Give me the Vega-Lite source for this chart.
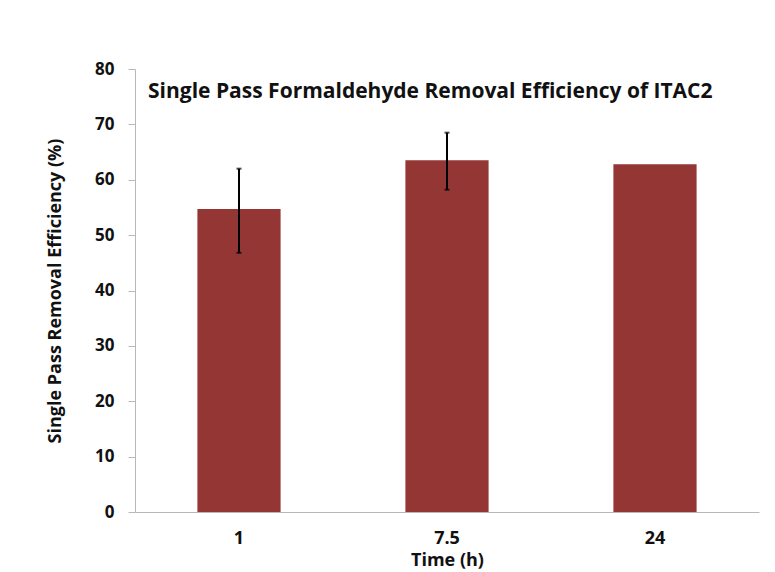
{
  "$schema": "https://vega.github.io/schema/vega-lite/v6.json",
  "autosize": {"type": "none"},
  "width": 624,
  "height": 443,
  "padding": {"left": 135, "top": 69, "right": 16, "bottom": 60},
  "background": "white",
  "config": {
    "view": {"stroke": null},
    "font": "Open Sans",
    "axis": {"labelFont": "Open Sans", "titleFont": "Open Sans", "labelFontWeight": "bold", "titleFontWeight": "bold", "labelColor": "#111", "titleColor": "#111", "domainColor": "#b8b8b8", "tickColor": "#b8b8b8", "grid": false}
  },
  "title": {
    "text": "Single Pass Formaldehyde Removal Efficiency of ITAC2",
    "anchor": "start",
    "frame": "group",
    "orient": "top",
    "offset": -42,
    "dx": 13,
    "font": "Open Sans",
    "fontSize": 21,
    "fontWeight": "bold",
    "color": "#111"
  },
  "data": {
    "values": [
      {"time": "1", "eff": 54.7, "lo": 46.8, "hi": 62.0},
      {"time": "7.5", "eff": 63.5, "lo": 58.2, "hi": 68.5},
      {"time": "24", "eff": 62.8, "lo": null, "hi": null}
    ]
  },
  "encoding": {
    "x": {
      "field": "time", "type": "nominal", "sort": ["1", "7.5", "24"],
      "scale": {"paddingInner": 0.6, "paddingOuter": 0.3},
      "axis": {"title": "Time (h)", "labelAngle": 0, "ticks": false, "labelPadding": 17, "labelFontSize": 18, "titleFontSize": 18, "titlePadding": 4, "domainWidth": 1}
    }
  },
  "layer": [
    {
      "mark": {"type": "bar", "color": "#943634"},
      "encoding": {
        "y": {
          "field": "eff", "type": "quantitative",
          "scale": {"domain": [0, 80]},
          "axis": {"title": "Single Pass Removal Efficiency (%)", "values": [0,10,20,30,40,50,60,70,80], "tickSize": 7, "labelPadding": 14, "labelFontSize": 17, "titleFontSize": 18, "titlePadding": 30}
        }
      }
    },
    {
      "transform": [{"filter": "datum.lo != null"}],
      "mark": {"type": "rule", "color": "#000", "strokeWidth": 2},
      "encoding": {"y": {"field": "lo", "type": "quantitative", "axis": {"title": "Single Pass Removal Efficiency (%)", "values": [0,10,20,30,40,50,60,70,80], "tickSize": 7, "labelPadding": 14, "labelFontSize": 17, "titleFontSize": 18, "titlePadding": 30}}, "y2": {"field": "hi"}}
    },
    {
      "transform": [{"filter": "datum.lo != null"}],
      "mark": {"type": "tick", "color": "#000", "thickness": 2, "size": 5},
      "encoding": {"y": {"field": "lo", "type": "quantitative", "axis": {"title": "Single Pass Removal Efficiency (%)", "values": [0,10,20,30,40,50,60,70,80], "tickSize": 7, "labelPadding": 14, "labelFontSize": 17, "titleFontSize": 18, "titlePadding": 30}}}
    },
    {
      "transform": [{"filter": "datum.hi != null"}],
      "mark": {"type": "tick", "color": "#000", "thickness": 2, "size": 5},
      "encoding": {"y": {"field": "hi", "type": "quantitative", "axis": {"title": "Single Pass Removal Efficiency (%)", "values": [0,10,20,30,40,50,60,70,80], "tickSize": 7, "labelPadding": 14, "labelFontSize": 17, "titleFontSize": 18, "titlePadding": 30}}}
    }
  ]
}
